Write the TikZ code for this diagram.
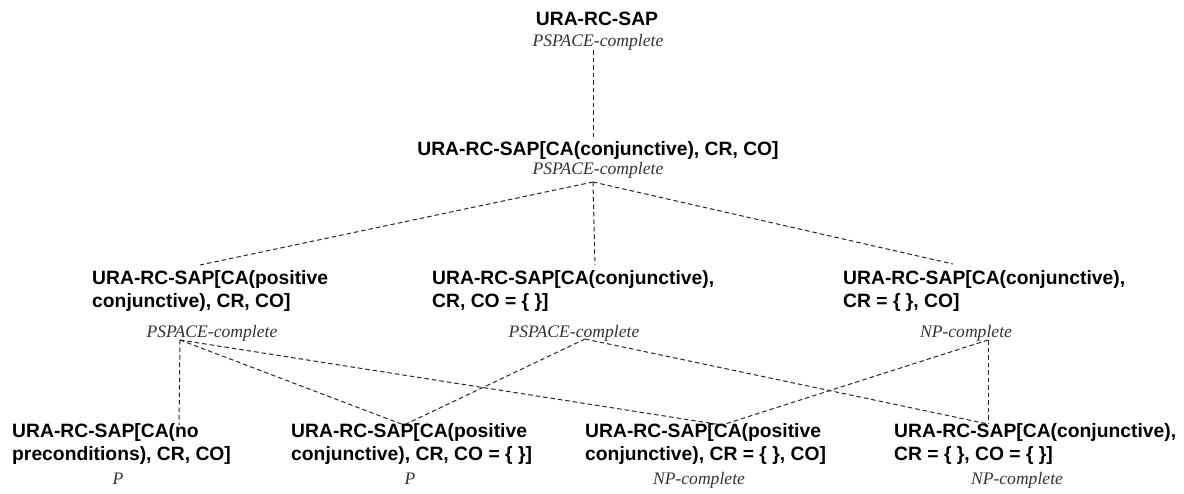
\documentclass[tikz,border=0pt]{standalone}
\usepackage{fontspec}
\setmainfont{Liberation Serif}
\newfontfamily\arialfam{Liberation Sans}
\begin{document}
\begin{tikzpicture}[x=1pt,y=-1pt,
  title/.style={inner sep=0pt,font=\arialfam\bfseries\fontsize{19.3}{22.5}\selectfont,align=left},
  ctitle/.style={inner sep=0pt,font=\arialfam\bfseries\fontsize{19.3}{22.5}\selectfont,anchor=base},
  cplx/.style={inner sep=0pt,font=\itshape\fontsize{17.6}{20}\selectfont,anchor=base,text=black!80},
  link/.style={draw=black!85,line width=1pt,dash pattern=on 4.5pt off 3pt}]
\useasboundingbox (0,0) rectangle (1184,493);
% level 1
\node[ctitle] (n1) at (597,25) {URA-RC-SAP};
\node[cplx] (n1c) at (598,46) {PSPACE-complete};
% level 2
\node[ctitle] (n2) at (598,155) {URA-RC-SAP[CA(conjunctive), CR, CO]};
\node[cplx] (n2c) at (598,174) {PSPACE-complete};
% level 3 (anchor on the baseline of the last line)
\node[title,anchor=base west] (a) at (92,307) {URA-RC-SAP[CA(positive\\conjunctive), CR, CO]};
\node[cplx] (ac) at (212,337) {PSPACE-complete};
\node[title,anchor=base west] (b) at (432,307) {URA-RC-SAP[CA(conjunctive),\\CR, CO = \{ \}]};
\node[cplx] (bc) at (574,337) {PSPACE-complete};
\node[title,anchor=base west] (c) at (843,307) {URA-RC-SAP[CA(conjunctive),\\CR = \{ \}, CO]};
\node[cplx] (cc) at (966,337) {NP-complete};
% level 4
\node[title,anchor=base west] (d) at (12,460) {URA-RC-SAP[CA(no\\preconditions), CR, CO]};
\node[cplx] (dc) at (118,484) {P};
\node[title,anchor=base west] (e) at (291,460) {URA-RC-SAP[CA(positive\\conjunctive), CR, CO = \{ \}]};
\node[cplx] (ec) at (410,484) {P};
\node[title,anchor=base west] (f) at (585,460) {URA-RC-SAP[CA(positive\\conjunctive), CR = \{ \}, CO]};
\node[cplx] (fc) at (699,484) {NP-complete};
\node[title,anchor=base west] (g) at (894,460) {URA-RC-SAP[CA(conjunctive),\\CR = \{ \}, CO = \{ \}]};
\node[cplx] (gc) at (1017,484) {NP-complete};
% junction points
\coordinate (t1) at (593,50);
\coordinate (t2) at (593,138);
\coordinate (j2) at (593,182);
\coordinate (at) at (200,265);
\coordinate (bt) at (595,265);
\coordinate (ct) at (953,264);
\coordinate (ab) at (180,340);
\coordinate (bb) at (585,339);
\coordinate (cb) at (988,340);
\coordinate (dt) at (179,425);
\coordinate (et) at (404,425);
\coordinate (ft) at (722,425);
\coordinate (gt) at (988,424);
% connectors
\draw[link] (t1) -- (t2);
\draw[link] (j2) -- (at);
\draw[link] (j2) -- (bt);
\draw[link] (j2) -- (ct);
\draw[link] (ab) -- (dt);
\draw[link] (ab) -- (et);
\draw[link] (ab) -- (ft);
\draw[link] (bb) -- (et);
\draw[link] (bb) -- (gt);
\draw[link] (cb) -- (ft);
\draw[link] (cb) -- (gt);
\end{tikzpicture}
\end{document}
